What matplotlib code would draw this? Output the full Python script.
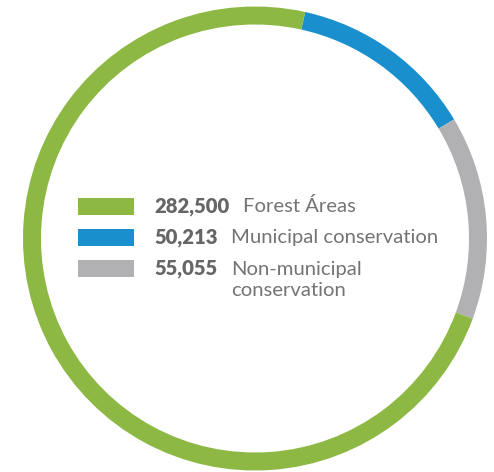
import matplotlib
matplotlib.use("Agg")
import matplotlib.pyplot as plt

# Data
categories = ["Municipal conservation", "Non-municipal\nconservation", "Forest Áreas"]
values = [50213, 55055, 282500]
colors = ["#1a8fce", "#b1b1b3", "#8cb843"]
legend_order = [2, 0, 1]  # Forest, Municipal, Non-municipal
number_labels = ["50,213", "55,055", "282,500"]

W, H = 494, 472
fig = plt.figure(figsize=(W / 100, H / 100), dpi=100)
ax = fig.add_axes([0, 0, 1, 1])

cx, cy_px, r, ring = 255, 238.5, 232, 18
ax.pie(values, colors=colors, startangle=77.5, counterclock=False,
       center=(cx, H - cy_px), radius=r,
       wedgeprops=dict(width=ring, edgecolor="none", linewidth=0))
ax.set_xlim(0, W)
ax.set_ylim(0, H)
ax.set_aspect("equal")
ax.axis("off")

font = "Lato"
tcol = "#747476"
sw_x, sw_w, sw_h = 78, 56, 17
row_tops = [197.5, 228.5, 260]
num_x = 154
line_gap = 21.5
fig.canvas.draw()
renderer = fig.canvas.get_renderer()
for row, idx in enumerate(legend_order):
    top = row_tops[row]
    ax.add_patch(plt.Rectangle((sw_x, H - top - sw_h), sw_w, sw_h,
                               facecolor=colors[idx], edgecolor="none"))
    base = H - (top + 15)
    t = ax.text(num_x, base, number_labels[idx], fontsize=14.6, fontweight="heavy",
                family=font, color="#666668", va="baseline", ha="left")
    bb = t.get_window_extent(renderer=renderer)
    lx = bb.x1 + 13.5  # pixels == data units here
    for k, line in enumerate(categories[idx].split("\n")):
        ax.text(lx, base - k * line_gap, line, fontsize=14.6, family=font,
                fontweight="normal", color=tcol, va="baseline", ha="left")

fig.savefig("out.png", dpi=100)
